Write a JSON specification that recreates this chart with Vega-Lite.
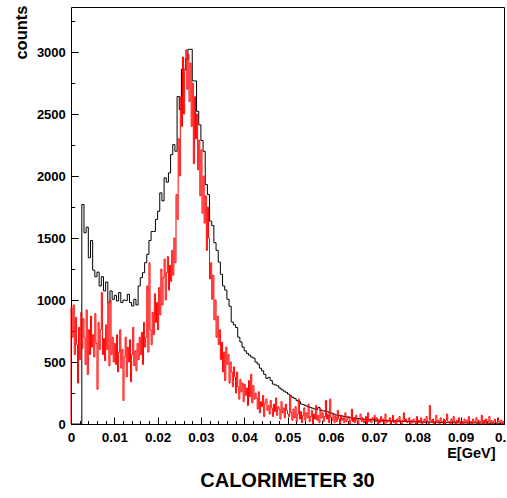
{
"$schema":"https://vega.github.io/schema/vega-lite/v6.json",
"width":433,"height":417,
"autosize":"none",
"padding":{"left":71,"top":7,"right":3,"bottom":74},
"background":"white",
"config":{"view":{"stroke":"black","strokeWidth":1},"font":"Liberation Sans"},
"title":{"text":"CALORIMETER 30","orient":"bottom","anchor":"middle","frame":"group","font":"Liberation Sans","fontWeight":"bold","fontSize":20,"color":"black","offset":11},
"datasets":{
"black":[
{"e":0,"c":0},{"e":0.0005,"c":0},{"e":0.001,"c":0},{"e":0.0015,"c":0},{"e":0.002,"c":0},
{"e":0.0025,"c":1770},{"e":0.003,"c":1542},{"e":0.0035,"c":1587},{"e":0.004,"c":1341},{"e":0.0045,"c":1480},
{"e":0.005,"c":1241},{"e":0.0055,"c":1188},{"e":0.006,"c":1225},{"e":0.0065,"c":1113},{"e":0.007,"c":1188},
{"e":0.0075,"c":1073},{"e":0.008,"c":1145},{"e":0.0085,"c":979},{"e":0.009,"c":1073},{"e":0.0095,"c":1006},
{"e":0.01,"c":1038},{"e":0.0105,"c":992},{"e":0.011,"c":1060},{"e":0.0115,"c":979},{"e":0.012,"c":1000},
{"e":0.0125,"c":995},{"e":0.013,"c":1046},{"e":0.0135,"c":979},{"e":0.014,"c":952},{"e":0.0145,"c":1006},
{"e":0.015,"c":960},{"e":0.0155,"c":1113},{"e":0.016,"c":1180},{"e":0.0165,"c":1220},{"e":0.017,"c":1301},
{"e":0.0175,"c":1368},{"e":0.018,"c":1480},{"e":0.0185,"c":1553},{"e":0.019,"c":1553},{"e":0.0195,"c":1650},
{"e":0.02,"c":1716},{"e":0.0205,"c":1864},{"e":0.021,"c":1800},{"e":0.0215,"c":1985},{"e":0.022,"c":1950},
{"e":0.0225,"c":2025},{"e":0.023,"c":2172},{"e":0.0235,"c":2253},{"e":0.024,"c":2200},{"e":0.0245,"c":2641},
{"e":0.025,"c":2535},{"e":0.0255,"c":2862},{"e":0.026,"c":2862},{"e":0.0265,"c":2942},{"e":0.027,"c":3022},
{"e":0.0275,"c":3022},{"e":0.028,"c":2767},{"e":0.0285,"c":2767},{"e":0.029,"c":2521},{"e":0.0295,"c":2413},
{"e":0.03,"c":2287},{"e":0.0305,"c":2199},{"e":0.031,"c":1931},{"e":0.0315,"c":1850},{"e":0.032,"c":1636},
{"e":0.0325,"c":1600},{"e":0.033,"c":1462},{"e":0.0335,"c":1400},{"e":0.034,"c":1306},{"e":0.0345,"c":1207},
{"e":0.035,"c":1113},{"e":0.0355,"c":1080},{"e":0.036,"c":1006},{"e":0.0365,"c":950},{"e":0.037,"c":823},
{"e":0.0375,"c":800},{"e":0.038,"c":778},{"e":0.0385,"c":700},{"e":0.039,"c":662},{"e":0.0395,"c":620},
{"e":0.04,"c":590},{"e":0.0405,"c":570},{"e":0.041,"c":555},{"e":0.0415,"c":540},{"e":0.042,"c":531},
{"e":0.0425,"c":500},{"e":0.043,"c":483},{"e":0.0435,"c":450},{"e":0.044,"c":429},{"e":0.0445,"c":400},
{"e":0.045,"c":368},{"e":0.0455,"c":376},{"e":0.046,"c":350},{"e":0.0465,"c":322},{"e":0.047,"c":315},
{"e":0.0475,"c":308},{"e":0.048,"c":290},{"e":0.0485,"c":276},{"e":0.049,"c":265},{"e":0.0495,"c":255},
{"e":0.05,"c":241},{"e":0.0505,"c":228},{"e":0.051,"c":215},{"e":0.0515,"c":205},{"e":0.052,"c":188},
{"e":0.0525,"c":180},{"e":0.053,"c":161},{"e":0.0535,"c":155},{"e":0.054,"c":147},{"e":0.0545,"c":140},
{"e":0.055,"c":134},{"e":0.0555,"c":128},{"e":0.056,"c":121},{"e":0.0565,"c":118},{"e":0.057,"c":134},
{"e":0.0575,"c":110},{"e":0.058,"c":107},{"e":0.0585,"c":102},{"e":0.059,"c":99},{"e":0.0595,"c":92},
{"e":0.06,"c":88},{"e":0.0605,"c":80},{"e":0.061,"c":72},{"e":0.0615,"c":70},{"e":0.062,"c":67},
{"e":0.0625,"c":64},{"e":0.063,"c":60},{"e":0.0635,"c":56},{"e":0.064,"c":54},{"e":0.0645,"c":50},
{"e":0.065,"c":48},{"e":0.0655,"c":46},{"e":0.066,"c":44},{"e":0.0665,"c":42},{"e":0.067,"c":40},
{"e":0.0675,"c":38},{"e":0.068,"c":37},{"e":0.0685,"c":35},{"e":0.069,"c":36},{"e":0.0695,"c":33},
{"e":0.07,"c":32},{"e":0.0705,"c":30},{"e":0.071,"c":31},{"e":0.0715,"c":29},{"e":0.072,"c":27},
{"e":0.0725,"c":28},{"e":0.073,"c":26},{"e":0.0735,"c":25},{"e":0.074,"c":24},{"e":0.0745,"c":25},
{"e":0.075,"c":23},{"e":0.0755,"c":22},{"e":0.076,"c":23},{"e":0.0765,"c":21},{"e":0.077,"c":20},
{"e":0.0775,"c":21},{"e":0.078,"c":19},{"e":0.0785,"c":18},{"e":0.079,"c":19},{"e":0.0795,"c":17},
{"e":0.08,"c":18},{"e":0.0805,"c":16},{"e":0.081,"c":17},{"e":0.0815,"c":15},{"e":0.082,"c":16},
{"e":0.0825,"c":14},{"e":0.083,"c":15},{"e":0.0835,"c":14},{"e":0.084,"c":13},{"e":0.0845,"c":14},
{"e":0.085,"c":12},{"e":0.0855,"c":13},{"e":0.086,"c":12},{"e":0.0865,"c":11},{"e":0.087,"c":12},
{"e":0.0875,"c":11},{"e":0.088,"c":10},{"e":0.0885,"c":11},{"e":0.089,"c":10},{"e":0.0895,"c":9},
{"e":0.09,"c":10},{"e":0.0905,"c":9},{"e":0.091,"c":10},{"e":0.0915,"c":8},{"e":0.092,"c":9},
{"e":0.0925,"c":8},{"e":0.093,"c":9},{"e":0.0935,"c":8},{"e":0.094,"c":7},{"e":0.0945,"c":8},
{"e":0.095,"c":7},{"e":0.0955,"c":8},{"e":0.096,"c":7},{"e":0.0965,"c":6},{"e":0.097,"c":7},
{"e":0.0975,"c":6},{"e":0.098,"c":7},{"e":0.0985,"c":6},{"e":0.099,"c":5},{"e":0.0995,"c":6},
{"e":0.1,"c":6}
],
"red":[
{"e":0,"c":0},
{"e":0,"c":940},{"e":0.00025,"c":700},{"e":0.0005,"c":960},{"e":0.00075,"c":560},{"e":0.001,"c":860},{"e":0.00125,"c":640},{"e":0.0015,"c":330},{"e":0.00175,"c":780},
{"e":0.002,"c":520},{"e":0.00225,"c":900},{"e":0.0025,"c":610},{"e":0.00275,"c":850},{"e":0.003,"c":700},{"e":0.00325,"c":480},{"e":0.0035,"c":920},{"e":0.00375,"c":400},
{"e":0.004,"c":760},{"e":0.00425,"c":560},{"e":0.0045,"c":870},{"e":0.00475,"c":620},{"e":0.005,"c":720},{"e":0.00525,"c":540},{"e":0.0055,"c":890},{"e":0.00575,"c":650},
{"e":0.006,"c":280},{"e":0.00625,"c":820},{"e":0.0065,"c":600},{"e":0.00675,"c":760},{"e":0.007,"c":1060},{"e":0.00725,"c":560},{"e":0.0075,"c":690},{"e":0.00775,"c":510},
{"e":0.008,"c":800},{"e":0.00825,"c":600},{"e":0.0085,"c":980},{"e":0.00875,"c":470},{"e":0.009,"c":1000},{"e":0.00925,"c":560},{"e":0.0095,"c":700},{"e":0.00975,"c":500},
{"e":0.01,"c":650},{"e":0.01025,"c":480},{"e":0.0105,"c":720},{"e":0.01075,"c":420},{"e":0.011,"c":580},{"e":0.01125,"c":760},{"e":0.0115,"c":450},{"e":0.01175,"c":600},
{"e":0.012,"c":190},{"e":0.01225,"c":540},{"e":0.0125,"c":700},{"e":0.01275,"c":380},{"e":0.013,"c":620},{"e":0.01325,"c":500},{"e":0.0135,"c":680},{"e":0.01375,"c":340},
{"e":0.014,"c":560},{"e":0.01425,"c":780},{"e":0.0145,"c":470},{"e":0.01475,"c":590},{"e":0.015,"c":430},{"e":0.01525,"c":650},{"e":0.0155,"c":520},{"e":0.01575,"c":700},
{"e":0.016,"c":560},{"e":0.01625,"c":740},{"e":0.0165,"c":480},{"e":0.01675,"c":820},{"e":0.017,"c":620},{"e":0.01725,"c":700},{"e":0.0175,"c":1113},{"e":0.01775,"c":580},
{"e":0.018,"c":1300},{"e":0.01825,"c":760},{"e":0.0185,"c":640},{"e":0.01875,"c":900},{"e":0.019,"c":720},{"e":0.01925,"c":1050},{"e":0.0195,"c":820},{"e":0.01975,"c":980},
{"e":0.02,"c":760},{"e":0.02025,"c":1100},{"e":0.0205,"c":880},{"e":0.02075,"c":1250},{"e":0.021,"c":960},{"e":0.02125,"c":1180},{"e":0.0215,"c":1330},{"e":0.02175,"c":1000},
{"e":0.022,"c":1220},{"e":0.02225,"c":1350},{"e":0.0225,"c":1080},{"e":0.02275,"c":1280},{"e":0.023,"c":1150},{"e":0.02325,"c":1400},{"e":0.0235,"c":1200},{"e":0.02375,"c":1500},
{"e":0.024,"c":1300},{"e":0.02425,"c":1850},{"e":0.0245,"c":1650},{"e":0.02475,"c":2300},{"e":0.025,"c":2000},{"e":0.02525,"c":2640},{"e":0.0255,"c":2400},{"e":0.02575,"c":2960},
{"e":0.026,"c":2500},{"e":0.02625,"c":2850},{"e":0.0265,"c":3017},{"e":0.02675,"c":2700},{"e":0.027,"c":2980},{"e":0.02725,"c":2600},{"e":0.0275,"c":2910},{"e":0.02775,"c":2400},
{"e":0.028,"c":2749},{"e":0.02825,"c":2100},{"e":0.0285,"c":2640},{"e":0.02875,"c":2300},{"e":0.029,"c":2500},{"e":0.02925,"c":2050},{"e":0.0295,"c":2290},{"e":0.02975,"c":1840},
{"e":0.03,"c":2210},{"e":0.03025,"c":1700},{"e":0.0305,"c":2000},{"e":0.03075,"c":1620},{"e":0.031,"c":1840},{"e":0.03125,"c":1400},{"e":0.0315,"c":1750},{"e":0.03175,"c":1500},
{"e":0.032,"c":1170},{"e":0.03225,"c":1300},{"e":0.0325,"c":1006},{"e":0.03275,"c":1200},{"e":0.033,"c":840},{"e":0.03325,"c":1000},{"e":0.0335,"c":700},{"e":0.03375,"c":870},
{"e":0.034,"c":640},{"e":0.03425,"c":760},{"e":0.0345,"c":520},{"e":0.03475,"c":660},{"e":0.035,"c":420},{"e":0.03525,"c":580},{"e":0.0355,"c":350},{"e":0.03575,"c":620},
{"e":0.036,"c":480},{"e":0.03625,"c":560},{"e":0.0365,"c":330},{"e":0.03675,"c":500},{"e":0.037,"c":420},{"e":0.03725,"c":300},{"e":0.0375,"c":460},{"e":0.03775,"c":380},
{"e":0.038,"c":250},{"e":0.03825,"c":420},{"e":0.0385,"c":300},{"e":0.03875,"c":200},{"e":0.039,"c":360},{"e":0.03925,"c":260},{"e":0.0395,"c":330},{"e":0.03975,"c":180},
{"e":0.04,"c":320},{"e":0.04025,"c":230},{"e":0.0405,"c":290},{"e":0.04075,"c":150},{"e":0.041,"c":350},{"e":0.04125,"c":220},{"e":0.0415,"c":402},{"e":0.04175,"c":170},
{"e":0.042,"c":310},{"e":0.04225,"c":200},{"e":0.0425,"c":250},{"e":0.04275,"c":210},{"e":0.043,"c":120},{"e":0.04325,"c":260},{"e":0.0435,"c":90},{"e":0.04375,"c":180},
{"e":0.044,"c":140},{"e":0.04425,"c":230},{"e":0.0445,"c":60},{"e":0.04475,"c":170},{"e":0.045,"c":200},{"e":0.04525,"c":110},{"e":0.0455,"c":150},{"e":0.04575,"c":80},
{"e":0.046,"c":190},{"e":0.04625,"c":130},{"e":0.0465,"c":60},{"e":0.04675,"c":160},{"e":0.047,"c":100},{"e":0.04725,"c":210},{"e":0.0475,"c":70},{"e":0.04775,"c":140},
{"e":0.048,"c":120},{"e":0.04825,"c":40},{"e":0.0485,"c":180},{"e":0.04875,"c":90},{"e":0.049,"c":130},{"e":0.04925,"c":50},{"e":0.0495,"c":160},{"e":0.04975,"c":110},
{"e":0.05,"c":80},{"e":0.05025,"c":60},{"e":0.0505,"c":228},{"e":0.05075,"c":90},{"e":0.051,"c":30},{"e":0.05125,"c":120},{"e":0.0515,"c":50},{"e":0.05175,"c":140},
{"e":0.052,"c":20},{"e":0.05225,"c":80},{"e":0.0525,"c":200},{"e":0.05275,"c":40},{"e":0.053,"c":100},{"e":0.05325,"c":10},{"e":0.0535,"c":70},{"e":0.05375,"c":130},
{"e":0.054,"c":30},{"e":0.05425,"c":90},{"e":0.0545,"c":50},{"e":0.05475,"c":160},{"e":0.055,"c":20},{"e":0.05525,"c":60},{"e":0.0555,"c":110},{"e":0.05575,"c":0},
{"e":0.056,"c":80},{"e":0.05625,"c":40},{"e":0.0565,"c":150},{"e":0.05675,"c":30},{"e":0.057,"c":70},{"e":0.05725,"c":10},{"e":0.0575,"c":120},{"e":0.05775,"c":50},
{"e":0.058,"c":90},{"e":0.05825,"c":20},{"e":0.0585,"c":60},{"e":0.05875,"c":190},{"e":0.059,"c":40},{"e":0.05925,"c":80},{"e":0.0595,"c":10},{"e":0.05975,"c":201},
{"e":0.06,"c":50},{"e":0.06025,"c":30},{"e":0.0605,"c":80},{"e":0.06075,"c":10},{"e":0.061,"c":60},{"e":0.06125,"c":20},{"e":0.0615,"c":110},{"e":0.06175,"c":40},
{"e":0.062,"c":0},{"e":0.06225,"c":70},{"e":0.0625,"c":30},{"e":0.06275,"c":50},{"e":0.063,"c":10},{"e":0.06325,"c":90},{"e":0.0635,"c":20},{"e":0.06375,"c":40},
{"e":0.064,"c":60},{"e":0.06425,"c":0},{"e":0.0645,"c":30},{"e":0.06475,"c":120},{"e":0.065,"c":20},{"e":0.06525,"c":50},{"e":0.0655,"c":10},{"e":0.06575,"c":70},
{"e":0.066,"c":30},{"e":0.06625,"c":0},{"e":0.0665,"c":40},{"e":0.06675,"c":80},{"e":0.067,"c":20},{"e":0.06725,"c":50},{"e":0.0675,"c":10},{"e":0.06775,"c":30},
{"e":0.068,"c":60},{"e":0.06825,"c":0},{"e":0.0685,"c":90},{"e":0.06875,"c":20},{"e":0.069,"c":40},{"e":0.06925,"c":10},{"e":0.0695,"c":50},{"e":0.06975,"c":30},
{"e":0.07,"c":70},{"e":0.07025,"c":20},{"e":0.0705,"c":50},{"e":0.07075,"c":0},{"e":0.071,"c":30},{"e":0.07125,"c":10},{"e":0.0715,"c":60},{"e":0.07175,"c":20},
{"e":0.072,"c":40},{"e":0.07225,"c":0},{"e":0.0725,"c":80},{"e":0.07275,"c":10},{"e":0.073,"c":30},{"e":0.07325,"c":20},{"e":0.0735,"c":50},{"e":0.07375,"c":0},
{"e":0.074,"c":20},{"e":0.07425,"c":70},{"e":0.0745,"c":10},{"e":0.07475,"c":30},{"e":0.075,"c":0},{"e":0.07525,"c":40},{"e":0.0755,"c":20},{"e":0.07575,"c":60},
{"e":0.076,"c":10},{"e":0.07625,"c":0},{"e":0.0765,"c":30},{"e":0.07675,"c":90},{"e":0.077,"c":20},{"e":0.07725,"c":40},{"e":0.0775,"c":10},{"e":0.07775,"c":20},
{"e":0.078,"c":50},{"e":0.07825,"c":0},{"e":0.0785,"c":30},{"e":0.07875,"c":10},{"e":0.079,"c":40},{"e":0.07925,"c":20},{"e":0.0795,"c":0},{"e":0.07975,"c":60},
{"e":0.08,"c":10},{"e":0.08025,"c":30},{"e":0.0805,"c":10},{"e":0.08075,"c":50},{"e":0.081,"c":0},{"e":0.08125,"c":20},{"e":0.0815,"c":40},{"e":0.08175,"c":10},
{"e":0.082,"c":60},{"e":0.08225,"c":20},{"e":0.0825,"c":0},{"e":0.08275,"c":150},{"e":0.083,"c":30},{"e":0.08325,"c":10},{"e":0.0835,"c":40},{"e":0.08375,"c":0},
{"e":0.084,"c":20},{"e":0.08425,"c":70},{"e":0.0845,"c":10},{"e":0.08475,"c":30},{"e":0.085,"c":0},{"e":0.08525,"c":50},{"e":0.0855,"c":20},{"e":0.08575,"c":10},
{"e":0.086,"c":40},{"e":0.08625,"c":0},{"e":0.0865,"c":30},{"e":0.08675,"c":80},{"e":0.087,"c":10},{"e":0.08725,"c":20},{"e":0.0875,"c":0},{"e":0.08775,"c":40},
{"e":0.088,"c":10},{"e":0.08825,"c":60},{"e":0.0885,"c":20},{"e":0.08875,"c":0},{"e":0.089,"c":30},{"e":0.08925,"c":10},{"e":0.0895,"c":50},{"e":0.08975,"c":20},
{"e":0.09,"c":0},{"e":0.09025,"c":20},{"e":0.0905,"c":0},{"e":0.09075,"c":40},{"e":0.091,"c":10},{"e":0.09125,"c":30},{"e":0.0915,"c":0},{"e":0.09175,"c":60},
{"e":0.092,"c":10},{"e":0.09225,"c":20},{"e":0.0925,"c":0},{"e":0.09275,"c":40},{"e":0.093,"c":20},{"e":0.09325,"c":10},{"e":0.0935,"c":50},{"e":0.09375,"c":0},
{"e":0.094,"c":30},{"e":0.09425,"c":10},{"e":0.0945,"c":20},{"e":0.09475,"c":70},{"e":0.095,"c":0},{"e":0.09525,"c":30},{"e":0.0955,"c":10},{"e":0.09575,"c":40},
{"e":0.096,"c":0},{"e":0.09625,"c":20},{"e":0.0965,"c":60},{"e":0.09675,"c":10},{"e":0.097,"c":30},{"e":0.09725,"c":0},{"e":0.0975,"c":20},{"e":0.09775,"c":40},
{"e":0.098,"c":10},{"e":0.09825,"c":0},{"e":0.0985,"c":50},{"e":0.09875,"c":20},{"e":0.099,"c":10},{"e":0.09925,"c":30},{"e":0.0995,"c":0},{"e":0.09975,"c":20},
{"e":0.1,"c":20}
]
},
"layer":[
{"data":{"name":"black"},
 "mark":{"type":"line","interpolate":"step-after","color":"black","strokeWidth":1},
 "encoding":{
  "x":{"field":"e","type":"quantitative","sort":null,"scale":{"domain":[0,0.1],"nice":false,"zero":false},
   "axis":{"orient":"bottom","values":[0,0.01,0.02,0.03,0.04,0.05,0.06,0.07,0.08,0.09,0.1],"format":".2~f","labelFlush":false,"labelOverlap":false,"tickSize":-7,"tickColor":"black","tickWidth":1,"domain":false,"grid":false,"labelFont":"Liberation Sans","labelFontWeight":"bold","labelFontSize":13.5,"labelColor":"black","labelPadding":13,"title":"E[GeV]","titleFont":"Liberation Sans","titleFontWeight":"bold","titleFontSize":14.5,"titleColor":"black","titleX":424,"titleY":33,"titleAlign":"right","titleBaseline":"alphabetic"}},
  "y":{"field":"c","type":"quantitative","scale":{"domain":[0,3363],"nice":false},
   "axis":{"orient":"left","values":[0,500,1000,1500,2000,2500,3000],"format":"d","labelFlush":false,"labelOverlap":false,"tickSize":-7.3,"tickColor":"black","tickWidth":1,"domain":false,"grid":false,"labelFont":"Liberation Sans","labelFontWeight":"bold","labelFontSize":13,"labelColor":"black","labelPadding":13,"labelBaseline":"middle","title":"counts","titleFont":"Liberation Sans","titleFontWeight":"bold","titleFontSize":16.5,"titleColor":"black","titleX":-44.5,"titleY":-2,"titleAngle":-90,"titleAlign":"right","titleBaseline":"alphabetic"}}
 }},
{"data":{"name":"red"},
 "mark":{"type":"line","interpolate":"step-after","color":"#ff0000","strokeWidth":1},
 "encoding":{
  "x":{"field":"e","type":"quantitative","sort":null,"scale":{"domain":[0,0.1],"nice":false,"zero":false},
   "axis":{"orient":"bottom","values":[0.002,0.004,0.006,0.008,0.012,0.014,0.016,0.018,0.022,0.024,0.026,0.028,0.032,0.034,0.036,0.038,0.042,0.044,0.046,0.048,0.052,0.054,0.056,0.058,0.062,0.064,0.066,0.068,0.072,0.074,0.076,0.078,0.082,0.084,0.086,0.088,0.092,0.094,0.096,0.098],"labels":false,"tickSize":-3.5,"tickColor":"black","tickWidth":1,"domain":false,"grid":false,"title":null}},
  "y":{"field":"c","type":"quantitative","scale":{"domain":[0,3363],"nice":false},
   "axis":{"orient":"left","values":[250,750,1250,1750,2250,2750,3250],"labels":false,"tickSize":-3.7,"tickColor":"black","tickWidth":1,"domain":false,"grid":false,"title":null}}
 }}
],
"resolve":{"axis":{"x":"independent","y":"independent"}}
}
